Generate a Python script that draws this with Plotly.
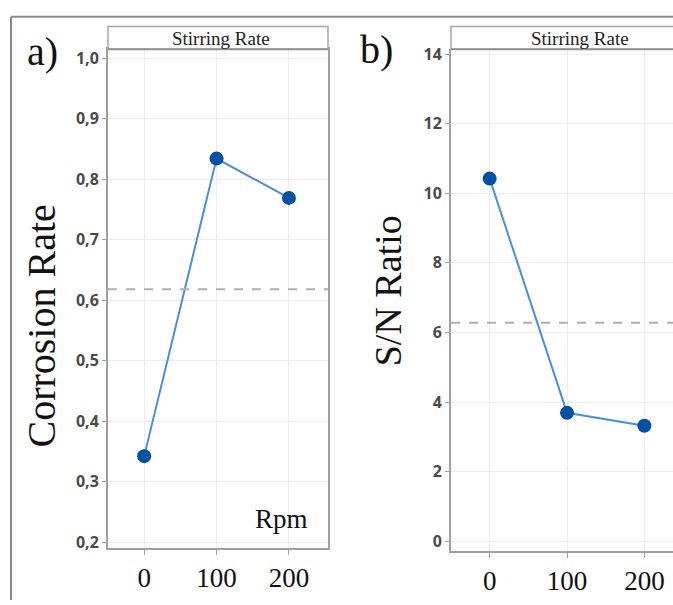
import plotly.graph_objects as go

W, H = 673, 605

# ---- data ----
rpm = [0, 100, 200]
corrosion_rate = [0.342, 0.834, 0.769]
sn_ratio = [10.42, 3.69, 3.32]
corrosion_ref = 0.618
sn_ref = 6.28
corr_ticks = [0.2, 0.3, 0.4, 0.5, 0.6, 0.7, 0.8, 0.9, 1.0]
sn_ticks = [0, 2, 4, 6, 8, 10, 12, 14]
x_ticks = [0, 100, 200]
header_text = "Stirring Rate"

def px_x(p):
    return p / W

def px_y(p):
    return 1 - p / H

LINE = "#4a8fd6"
MARK = "#0050a5"
GRID = "#ededed"
AX = "#a0a0a0"

fig = go.Figure()
for xa, ya, vals in [("x", "y", corrosion_rate), ("x2", "y2", sn_ratio)]:
    fig.add_trace(go.Scatter(
        x=rpm, y=vals, xaxis=xa, yaxis=ya, mode="lines+markers",
        line=dict(color=LINE, width=2),
        marker=dict(color=MARK, size=14),
        showlegend=False, hoverinfo="skip"))

tickfont_y = dict(family="Open Sans", size=16, color="#4a4a4a", weight="bold")
tickfont_x = dict(family="Liberation Serif", size=27, color="#111111")

common_x = dict(tickvals=x_ticks, showgrid=True, gridcolor=GRID, gridwidth=1,
                zeroline=False, showline=True, linecolor=AX, linewidth=2,
                ticks="outside", ticklen=5, tickcolor=AX, tickfont=tickfont_x)
common_y = dict(showgrid=True, gridcolor=GRID, gridwidth=1, zeroline=False,
                showline=True, linecolor=AX, linewidth=2, ticks="outside",
                ticklen=4, tickcolor=AX, tickfont=tickfont_y)

fig.update_layout(
    width=W, height=H,
    margin=dict(l=0, r=0, t=0, b=0),
    paper_bgcolor="white", plot_bgcolor="white",
    separators=", ",
    xaxis=dict(domain=[px_x(108), px_x(328)], range=[-50, 254], anchor="y",
               mirror=True, **common_x),
    yaxis=dict(domain=[px_y(552), px_y(43)], range=[0.19, 1.015], anchor="x",
               tickvals=corr_ticks, tickformat=".1f", mirror=True, **common_y),
    xaxis2=dict(domain=[px_x(451), 1.0], range=[-50, 237], anchor="y2", **common_x),
    yaxis2=dict(domain=[px_y(555), px_y(43)], range=[-0.28, 14.14], anchor="x2",
                tickvals=sn_ticks, tickformat="d", **common_y),
)

shapes = []
# outer frame lines
shapes.append(dict(type="line", xref="paper", yref="paper",
                   x0=px_x(11), x1=1.0, y0=px_y(10), y1=px_y(10),
                   line=dict(color="#8a8a8a", width=2)))
shapes.append(dict(type="line", xref="paper", yref="paper",
                   x0=px_x(11), x1=px_x(11), y0=px_y(10), y1=0,
                   line=dict(color="#8a8a8a", width=2)))
# header strips
shapes.append(dict(type="rect", xref="paper", yref="paper",
                   x0=px_x(108), x1=px_x(328), y0=px_y(43), y1=px_y(20),
                   fillcolor="white", line=dict(color="#a8a8a8", width=1.5)))
shapes.append(dict(type="rect", xref="paper", yref="paper",
                   x0=px_x(451), x1=1.01, y0=px_y(43), y1=px_y(20),
                   fillcolor="white", line=dict(color="#a8a8a8", width=1.5)))
shapes.append(dict(type="line", xref="paper", yref="paper",
                   x0=px_x(108), x1=px_x(328), y0=px_y(43), y1=px_y(43),
                   line=dict(color="#909090", width=2)))
shapes.append(dict(type="line", xref="paper", yref="paper",
                   x0=px_x(451), x1=1.0, y0=px_y(43), y1=px_y(43),
                   line=dict(color="#909090", width=2)))
# reference dashed lines
shapes.append(dict(type="line", xref="x domain", yref="y", x0=0, x1=1,
                   y0=corrosion_ref, y1=corrosion_ref,
                   line=dict(color="#b0b0b0", width=2, dash="dash")))
shapes.append(dict(type="line", xref="x2 domain", yref="y2", x0=0, x1=1,
                   y0=sn_ref, y1=sn_ref,
                   line=dict(color="#b0b0b0", width=2, dash="dash")))
fig.update_layout(shapes=shapes)

serif = "Liberation Serif"
ann = [
    dict(text=header_text, x=px_x(221), y=px_y(32), font=dict(family=serif, size=19, color="#222")),
    dict(text=header_text, x=px_x(580), y=px_y(32), font=dict(family=serif, size=19, color="#222")),
    dict(text="a)", x=px_x(42), y=px_y(45), font=dict(family=serif, size=40, color="#111")),
    dict(text="b)", x=px_x(376), y=px_y(43), font=dict(family=serif, size=40, color="#111")),
    dict(text="Corrosion Rate", x=px_x(42), y=px_y(326), textangle=-90,
         font=dict(family=serif, size=40, color="#111")),
    dict(text="S/N Ratio", x=px_x(388), y=px_y(289), textangle=-90,
         font=dict(family=serif, size=38, color="#111")),
    dict(text="Rpm", x=px_x(281), y=px_y(522), font=dict(family=serif, size=27, color="#111")),
]
for a in ann:
    a.update(xref="paper", yref="paper", showarrow=False, xanchor="center", yanchor="middle")
fig.update_layout(annotations=ann)

fig.write_html("out.html")
